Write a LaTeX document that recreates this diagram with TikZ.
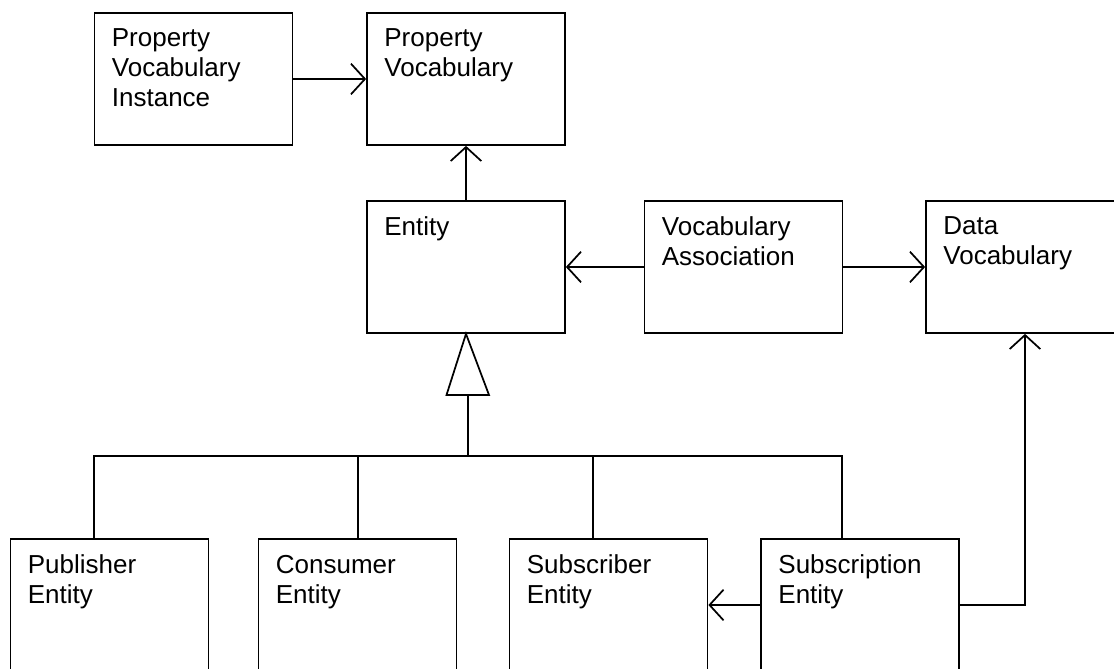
\documentclass[tikz,border=0pt]{standalone}
\usepackage{fontspec}
\setmainfont{Liberation Sans}
\usetikzlibrary{arrows.meta,calc}
\begin{document}
\begin{tikzpicture}[x=0.75pt,y=-0.75pt,
  box/.style={draw, line width=1.3pt, rectangle, inner sep=0pt, minimum width=148.5pt, minimum height=99pt},
  lbl/.style={anchor=north west, inner sep=0pt, align=left, font=\fontsize{19.5pt}{22.5pt}\selectfont},
  conn/.style={line width=1.3pt},
  arr/.style={conn, -{Straight Barb[length=10.5pt,width=23pt]}}
]
\clip (0,0) rectangle (1114,668);
\fill[white] (0,0) rectangle (1114,668);

% boxes
\node[box] (pvi) at (193.5,79) {};
\node[box] (pv) at (466,79) {};
\node[box] (ent) at (466,267) {};
\node[box] (va) at (743.5,267) {};
\node[box] (dv) at (1025,267) {};
\node[box] (pub) at (109.5,605) {};
\node[box] (con) at (357.5,605) {};
\node[box] (subr) at (608.5,605) {};
\node[box] (subn) at (860,605) {};

% labels
\node[lbl] (pvi-t) at ($(pvi.north west)+(18,16.5)$) {Property\\Vocabulary\\Instance};
\node[lbl] (pv-t) at ($(pv.north west)+(18,16.5)$) {Property\\Vocabulary};
\node[lbl] (ent-t) at ($(ent.north west)+(18,16.5)$) {Entity};
\node[lbl] (va-t) at ($(va.north west)+(18,16.5)$) {Vocabulary\\Association};
\node[lbl] (dv-t) at ($(dv.north west)+(18,16.5)$) {Data\\Vocabulary};
\node[lbl] (pub-t) at ($(pub.north west)+(18,16.5)$) {Publisher\\Entity};
\node[lbl] (con-t) at ($(con.north west)+(18,16.5)$) {Consumer\\Entity};
\node[lbl] (subr-t) at ($(subr.north west)+(18,16.5)$) {Subscriber\\Entity};
\node[lbl] (subn-t) at ($(subn.north west)+(18,16.5)$) {Subscription\\Entity};

% associations
\draw[arr] (pvi.east) -- (pv.west);
\draw[arr] (ent.north) -- (pv.south);
\draw[arr] (va.west) -- (ent.east);
\draw[arr] (va.east) -- (dv.west);
\draw[arr] (subn.west) -- (subr.east);
\draw[arr] (subn.east) -| (dv.south);

% generalization
\coordinate (trl) at (446.5,395);
\coordinate (trr) at (489,395);
\coordinate (tri) at (468,395);
\coordinate (bus) at (468,456);
\draw[conn] (ent.south) -- (trl) -- (trr) -- cycle;
\draw[conn] (tri) -- (bus);
\path (pub.north west) ++(84,0) coordinate (pubtop);
\path (con.north west) ++(100,0) coordinate (contop);
\path (subr.north west) ++(84,0) coordinate (subrtop);
\path (subn.north west) ++(82,0) coordinate (subntop);
\draw[conn] (pubtop) -- (pubtop |- bus) -- (subntop |- bus) -- (subntop);
\draw[conn] (contop) -- (contop |- bus);
\draw[conn] (subrtop) -- (subrtop |- bus);
\end{tikzpicture}
\end{document}
